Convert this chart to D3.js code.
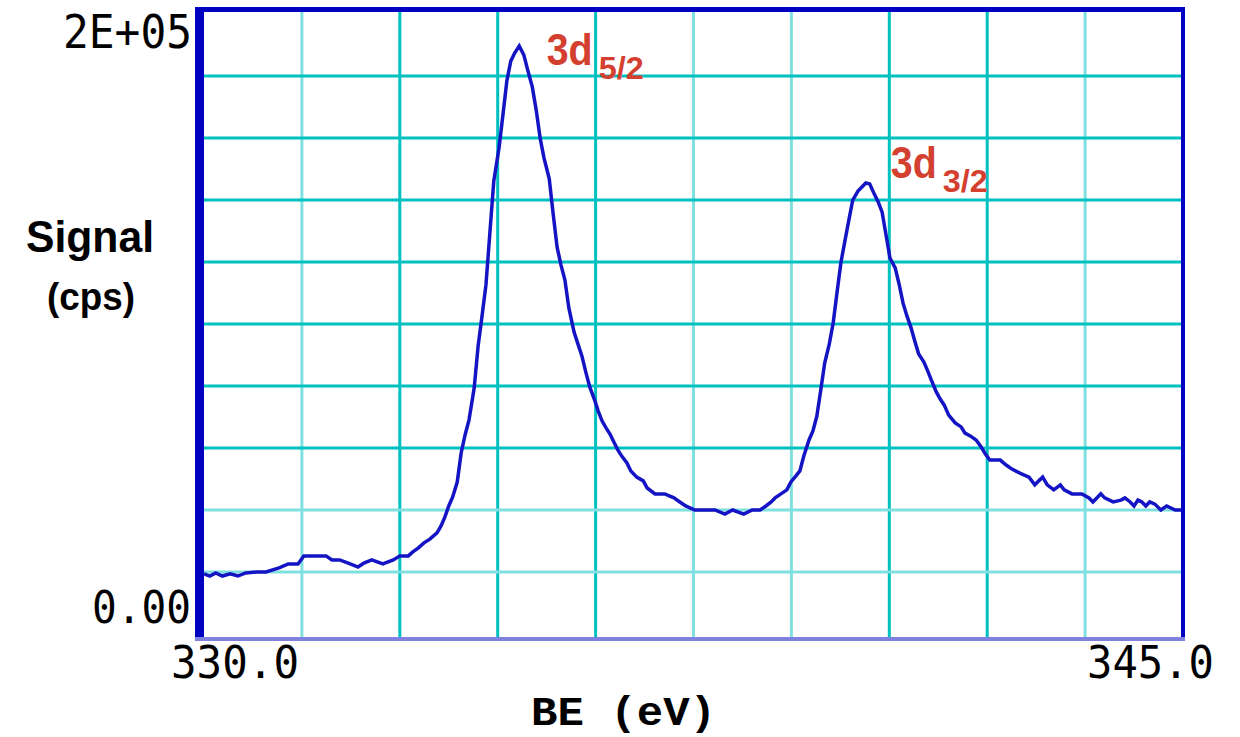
<!DOCTYPE html>
<html>
<head>
<meta charset="utf-8">
<script src="https://cdn.jsdelivr.net/npm/d3@7"></script>
<style>
  body { margin: 0; background: #fff; }
  svg { display: block; }
</style>
</head>
<body>
<svg id="canvas" width="1240" height="737"></svg>
<script>
// binding energy (eV)
const bindingEnergy = [
  330.00, 330.09, 330.18, 330.28, 330.40, 330.52, 330.64, 330.80, 330.95, 331.15,
  331.29, 331.44, 331.53, 331.70, 331.87, 331.96, 332.08, 332.24, 332.36, 332.45,
  332.57, 332.74, 332.90, 333.00, 333.13, 333.20, 333.28, 333.37, 333.46, 333.57,
  333.63, 333.69, 333.75, 333.81, 333.88, 333.94, 334.00, 334.06, 334.14, 334.20,
  334.26, 334.32, 334.38, 334.44, 334.52, 334.58, 334.64, 334.70, 334.76, 334.83,
  334.90, 334.96, 335.03, 335.09, 335.15, 335.21, 335.29, 335.35, 335.41, 335.47,
  335.53, 335.59, 335.67, 335.73, 335.79, 335.85, 335.91, 335.98, 336.04, 336.10,
  336.16, 336.22, 336.28, 336.34, 336.40, 336.48, 336.54, 336.63, 336.73, 336.79,
  336.91, 337.06, 337.20, 337.29, 337.38, 337.52, 337.68, 337.83, 337.98, 338.10,
  338.27, 338.40, 338.52, 338.61, 338.69, 338.75, 338.84, 338.93, 338.99, 339.07,
  339.13, 339.19, 339.27, 339.33, 339.39, 339.45, 339.51, 339.58, 339.64, 339.70,
  339.76, 339.82, 339.88, 339.94, 340.02, 340.08, 340.14, 340.20, 340.27, 340.33,
  340.39, 340.45, 340.51, 340.59, 340.65, 340.71, 340.77, 340.83, 340.89, 340.95,
  341.03, 341.09, 341.15, 341.22, 341.28, 341.34, 341.41, 341.51, 341.60, 341.66,
  341.74, 341.83, 341.90, 341.97, 342.04, 342.20, 342.29, 342.38, 342.50, 342.64,
  342.73, 342.79, 342.85, 342.92, 343.02, 343.12, 343.18, 343.30, 343.45, 343.56,
  343.62, 343.68, 343.74, 343.80, 343.93, 344.05, 344.11, 344.19, 344.25, 344.31,
  344.37, 344.43, 344.49, 344.57, 344.66, 344.75, 344.88, 345.00
];

// signal (cps) at each energy above
const signal = [
  19400, 18700, 19700, 18700, 19400, 18700, 19700, 20000, 20000, 21300,
  22600, 22600, 25200, 25200, 25200, 23900, 23900, 22600, 21600, 22900,
  23900, 22600, 23900, 25200, 25200, 26500, 27700, 29400, 30600, 32600,
  34800, 37700, 41300, 44200, 49000, 58400, 64200, 69000, 79400, 92900,
  102600, 112600, 129400, 146100, 156800, 167400, 178400, 184800, 187400, 189700,
  186800, 181900, 176500, 169000, 160000, 153500, 146800, 135500, 124800, 119000,
  114200, 105200, 97400, 93500, 89700, 84500, 79700, 75800, 71900, 68700,
  66500, 64500, 61900, 59400, 57400, 55200, 52600, 50600, 49400, 47100,
  45200, 45200, 43900, 42600, 41300, 40000, 40000, 40000, 38700, 40000,
  38700, 40000, 40000, 41300, 42600, 43900, 45200, 46500, 49000, 51000,
  52600, 57400, 62600, 65500, 70300, 78700, 87400, 93500, 100300, 110300,
  120000, 126800, 133500, 140000, 142900, 144200, 145500, 145200, 141900, 139400,
  136100, 128700, 121300, 118100, 112900, 106800, 102600, 99000, 94500, 90300,
  87700, 84800, 81600, 78100, 75800, 73900, 70600, 68100, 66800, 64800,
  63900, 62600, 60600, 58100, 56100, 56100, 54500, 53200, 51900, 50600,
  48100, 49400, 50600, 48100, 46500, 48100, 46500, 45200, 45200, 43900,
  42600, 43900, 45200, 43900, 42600, 43200, 43900, 42600, 41300, 43200,
  42600, 41300, 42600, 41900, 40000, 41300, 40000, 40000
];

// grid positions and the axis labels
const xGrid = [331.5, 333.0, 334.5, 336.0, 337.5, 339.0, 340.5, 342.0, 343.5];
const yGrid = [20000, 40000, 60000, 80000, 100000, 120000, 140000, 160000, 180000];
const yTickLabels = ['2E+05', '0.00'];
const xTickLabels = ['330.0', '345.0'];
const peakLabels = [
  { main: '3d', sub: '5/2', e: 334.76, v: 187400 },
  { main: '3d', sub: '3/2', e: 340.14, v: 145500 }
];

// grid line shades (the original mixes two teals)
const vShade = ['#80e0e0', '#00c0c0', '#00c0c0', '#00c0c0', '#80e0e0', '#80e0e0', '#00c0c0', '#00c0c0', '#80e0e0'];
const hShade = ['#80e0e0', '#80e0e0', '#00c0c0', '#00c0c0', '#00c0c0', '#00c0c0', '#00c0c0', '#00c0c0', '#00c0c0'];

let canvas = d3.select('#canvas');

let x = d3.scaleLinear().domain([330, 345]).range([204, 1183]);
let y = d3.scaleLinear().domain([0, 200000]).range([634, 14]);

const frame = { left: 199.5, right: 1183, top: 9.5, bottom: 639 };

// grid
canvas.append('g')
  .selectAll('line')
  .data(xGrid)
  .enter()
  .append('line')
  .attr('x1', d => x(d)).attr('x2', d => x(d))
  .attr('y1', frame.top).attr('y2', frame.bottom)
  .attr('stroke', (d, i) => vShade[i])
  .attr('stroke-width', 3);

canvas.append('g')
  .selectAll('line')
  .data(yGrid)
  .enter()
  .append('line')
  .attr('x1', frame.left).attr('x2', frame.right)
  .attr('y1', d => y(d)).attr('y2', d => y(d))
  .attr('stroke', (d, i) => hShade[i])
  .attr('stroke-width', 3);

// spectrum
let points = bindingEnergy.map((e, i) => [e, signal[i]]);
let line = d3.line()
  .x(d => x(d[0]))
  .y(d => y(d[1]));

canvas.append('path')
  .datum(points)
  .attr('d', line)
  .attr('fill', 'none')
  .attr('stroke', '#1414c4')
  .attr('stroke-width', 3.5)
  .attr('stroke-linejoin', 'miter');

// frame
canvas.append('line')
  .attr('x1', frame.left - 4.5).attr('x2', frame.right + 2)
  .attr('y1', frame.bottom).attr('y2', frame.bottom)
  .attr('stroke', '#8080e0').attr('stroke-width', 4);
canvas.append('line')
  .attr('x1', frame.left - 4.5).attr('x2', frame.right + 2)
  .attr('y1', frame.top).attr('y2', frame.top)
  .attr('stroke', '#0000c0').attr('stroke-width', 5);
canvas.append('line')
  .attr('x1', frame.left).attr('x2', frame.left)
  .attr('y1', frame.top - 2.5).attr('y2', frame.bottom - 2)
  .attr('stroke', '#0000c0').attr('stroke-width', 9);
canvas.append('line')
  .attr('x1', frame.right).attr('x2', frame.right)
  .attr('y1', frame.top - 2.5).attr('y2', frame.bottom - 2)
  .attr('stroke', '#0000c0').attr('stroke-width', 4);

// y tick labels
const mono = "'DejaVu Sans Mono', monospace";
canvas.append('text')
  .attr('x', 192).attr('y', 48)
  .attr('text-anchor', 'end')
  .attr('font-family', mono).attr('font-size', 47)
  .attr('textLength', 129).attr('lengthAdjust', 'spacingAndGlyphs')
  .text(yTickLabels[0]);
canvas.append('text')
  .attr('x', 191).attr('y', 623)
  .attr('text-anchor', 'end')
  .attr('font-family', mono).attr('font-size', 44)
  .attr('textLength', 99).attr('lengthAdjust', 'spacingAndGlyphs')
  .text(yTickLabels[1]);

// x tick labels
canvas.append('text')
  .attr('x', x(330) - 33).attr('y', 678)
  .attr('font-family', mono).attr('font-size', 45)
  .attr('textLength', 128).attr('lengthAdjust', 'spacingAndGlyphs')
  .text(xTickLabels[0]);
canvas.append('text')
  .attr('x', x(345) + 31).attr('y', 678)
  .attr('text-anchor', 'end')
  .attr('font-family', mono).attr('font-size', 45)
  .attr('textLength', 127).attr('lengthAdjust', 'spacingAndGlyphs')
  .text(xTickLabels[1]);

// axis titles
canvas.append('text')
  .attr('x', 531).attr('y', 725)
  .attr('font-family', "'Liberation Mono', monospace").attr('font-weight', 'bold')
  .attr('font-size', 40)
  .attr('textLength', 185).attr('lengthAdjust', 'spacingAndGlyphs')
  .text('BE (eV)');

canvas.append('text')
  .attr('x', 26).attr('y', 252)
  .attr('font-family', "'Liberation Sans', Arial, sans-serif").attr('font-weight', 'bold')
  .attr('font-size', 45)
  .attr('textLength', 128).attr('lengthAdjust', 'spacingAndGlyphs')
  .text('Signal');
canvas.append('text')
  .attr('x', 47).attr('y', 310)
  .attr('font-family', "'Liberation Sans', Arial, sans-serif").attr('font-weight', 'bold')
  .attr('font-size', 38)
  .attr('textLength', 88).attr('lengthAdjust', 'spacingAndGlyphs')
  .text('(cps)');

// peak labels, placed up and right of each peak top
const peakOffset = [{ dx: 32, dy: 12 }, { dx: 25, dy: -5 }];
peakLabels.forEach((p, i) => {
  let t = canvas.append('text')
    .attr('x', x(p.e) + peakOffset[i].dx)
    .attr('y', y(p.v) + peakOffset[i].dy)
    .attr('font-family', "'Liberation Sans', Arial, sans-serif")
    .attr('font-weight', 'bold')
    .attr('fill', '#d4402f');
  t.append('tspan')
    .attr('font-size', 44)
    .attr('textLength', 46).attr('lengthAdjust', 'spacingAndGlyphs')
    .text(p.main);
  t.append('tspan')
    .attr('dx', 6).attr('dy', 14)
    .attr('font-size', 32)
    .attr('textLength', 45).attr('lengthAdjust', 'spacingAndGlyphs')
    .text(p.sub);
});
</script>
</body>
</html>
